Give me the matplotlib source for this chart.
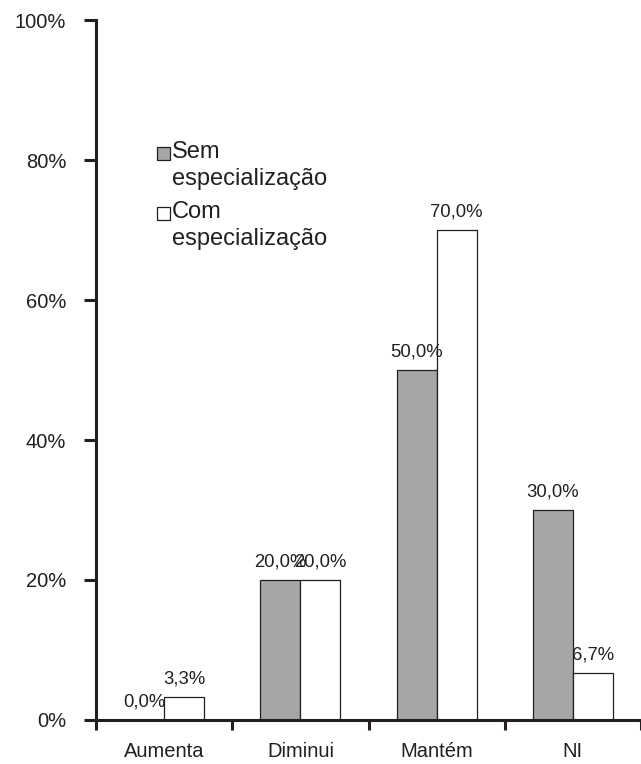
import numpy as np
import matplotlib.pyplot as plt
from matplotlib.patches import Rectangle

plt.rcParams['font.family'] = ['Liberation Sans', 'DejaVu Sans']

categorias = ["Aumenta", "Diminui", "Mantém", "NI"]
sem_espec = [0.0, 20.0, 50.0, 30.0]
com_espec = [3.3, 20.0, 70.0, 6.7]
series_labels = ["Sem\nespecialização", "Com\nespecialização"]

fig = plt.figure(figsize=(6.41, 7.64), dpi=100)
ax = fig.add_axes([0.1498, 0.0576, 0.8502, 0.9162])

x = np.arange(len(categorias))
w = 0.294
gray = "#a6a6a8"
dark = "#231f20"
colors = [gray, "white"]

b1 = ax.bar(x - w / 2, sem_espec, w, color=gray, edgecolor=dark, linewidth=0.9)
b2 = ax.bar(x + w / 2, com_espec, w, color="white", edgecolor=dark, linewidth=0.9)

def fmt(v):
    return f"{v:.1f}%".replace(".", ",")

for bars, vals in ((b1, sem_espec), (b2, com_espec)):
    for r, v in zip(bars, vals):
        ax.annotate(fmt(v), (r.get_x() + r.get_width() / 2, v),
                    xytext=(0, 10), textcoords="offset points",
                    ha="center", va="baseline", fontsize=13.3, color=dark)

ax.set_xlim(-0.5, len(categorias) - 0.5)
ax.set_ylim(0, 100)
ax.set_yticks(np.arange(0, 101, 20))
ax.set_yticklabels([f"{t}%" for t in range(0, 101, 20)])

# category boundaries get the tick marks, names sit in the middle
ax.set_xticks(np.arange(-0.5, len(categorias), 1.0))
ax.set_xticklabels([])
ax.set_xticks(x, minor=True)
ax.set_xticklabels(categorias, minor=True)
ax.tick_params(axis="x", which="minor", length=0, pad=16, labelsize=14.5, labelcolor=dark)
ax.tick_params(axis="x", which="major", length=7, width=2.2, direction="out", color=dark)
ax.tick_params(axis="y", length=8.5, width=2.2, direction="out", labelsize=14.5,
               pad=13, color=dark, labelcolor=dark)

for s in ("top", "right"):
    ax.spines[s].set_visible(False)
for s in ("left", "bottom"):
    ax.spines[s].set_linewidth(2.2)
    ax.spines[s].set_color(dark)

# legend drawn by hand: square next to first line of a two-line label
leg_y = [0.803, 0.717]
line_step = 27 / 700  # axes fraction between the two lines of a label
for lab, col, yb in zip(series_labels, colors, leg_y):
    ax.add_patch(Rectangle((0.112, yb - 0.003), 0.024, 0.0186, transform=ax.transAxes,
                           facecolor=col, edgecolor=dark, linewidth=0.9, clip_on=False))
    for k, part in enumerate(lab.split("\n")):
        ax.text(0.139, yb - k * line_step, part, transform=ax.transAxes,
                ha="left", va="baseline", fontsize=17, color=dark)

fig.savefig("out.png", dpi=100)
